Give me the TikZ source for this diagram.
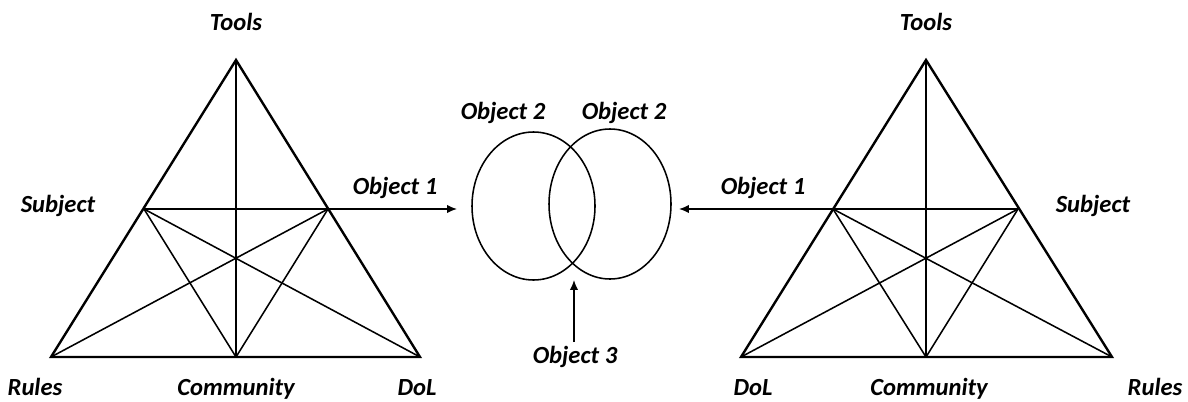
\documentclass[tikz,border=0pt]{standalone}
\usepackage{fontspec}
\setmainfont{Carlito}
\usetikzlibrary{arrows.meta}

\begin{document}
\begin{tikzpicture}[
    x=0.025cm, y=-0.025cm,
    % Corner and object labels
    lbl/.style={font=\fontsize{17.5}{20}\selectfont\bfseries\itshape,
        inner sep=0pt},
    % Outer triangle
    rand/.style={draw, line width=1.7pt, line join=miter},
    % Inner lines of the triangle
    innen/.style={draw, line width=1.1pt},
    % Object sets
    menge/.style={draw, line width=1.1pt},
    pfeil/.style={draw, line width=1.1pt, -{Latex[length=7pt, width=6pt]}}
]
\useasboundingbox (0,0) rectangle (1188,401);

% ---- LEFT TRIANGLE ----
\coordinate (l_top)   at (236, 60);
\coordinate (l_left)  at (51, 357);
\coordinate (l_right) at (420, 357);
\coordinate (l_mid)   at (236, 357);
\coordinate (l_subj)  at (144, 209);
\coordinate (l_obj)   at (328, 209);

\draw[innen] (l_top) -- (l_mid);
\draw[innen] (l_subj) -- (l_obj);
\draw[innen] (l_subj) -- (l_mid);
\draw[innen] (l_subj) -- (l_right);
\draw[innen] (l_obj)  -- (l_left);
\draw[innen] (l_obj)  -- (l_mid);
\draw[rand]  (l_top) -- (l_right) -- (l_left) -- cycle;

\node[lbl] (l_tools) at (236, 22)  {Tools};
\node[lbl] (l_sub)   at (58, 206)  {Subject};
\node[lbl] (l_rules) at (35, 387)  {Rules};
\node[lbl] (l_comm)  at (236, 389) {Community};
\node[lbl] (l_dol)   at (417, 388) {DoL};

% ---- RIGHT TRIANGLE (mirrored) ----
\coordinate (r_top)   at (926, 60);
\coordinate (r_left)  at (741, 357);
\coordinate (r_right) at (1112, 357);
\coordinate (r_mid)   at (926, 357);
\coordinate (r_obj)   at (833, 209);
\coordinate (r_subj)  at (1018, 209);

\draw[innen] (r_top) -- (r_mid);
\draw[innen] (r_obj) -- (r_subj);
\draw[innen] (r_obj) -- (r_mid);
\draw[innen] (r_obj) -- (r_right);
\draw[innen] (r_subj) -- (r_left);
\draw[innen] (r_subj) -- (r_mid);
\draw[rand]  (r_top) -- (r_right) -- (r_left) -- cycle;

\node[lbl] (r_tools) at (926, 22)   {Tools};
\node[lbl] (r_sub)   at (1093, 206) {Subject};
\node[lbl] (r_rules) at (1155, 387) {Rules};
\node[lbl] (r_comm)  at (929, 389)  {Community};
\node[lbl] (r_dol)   at (753, 388)  {DoL};

% ---- SHARED OBJECT ----
\coordinate (set_a) at (533.5, 206);
\coordinate (set_b) at (610, 204);
\draw[menge] (set_a) ellipse [x radius=61.5, y radius=74];
\draw[menge] (set_b) ellipse [x radius=61, y radius=75];

\node[lbl] (obj2_a) at (503, 113) {Object 2};
\node[lbl] (obj2_b) at (624, 113) {Object 2};

% arrows into the sets
\coordinate (in_left)  at (457, 209);
\coordinate (in_right) at (679, 209);
\coordinate (in_low)   at (574, 280);
\coordinate (obj3_end) at (574, 342);

\draw[pfeil] (l_obj) -- (in_left);
\draw[pfeil] (r_obj) -- (in_right);
\draw[pfeil] (obj3_end) -- (in_low);

\node[lbl] (obj1_l) at (395, 188) {Object 1};
\node[lbl] (obj1_r) at (763, 188) {Object 1};
\node[lbl] (obj3)   at (575, 357) {Object 3};

\end{tikzpicture}
\end{document}
